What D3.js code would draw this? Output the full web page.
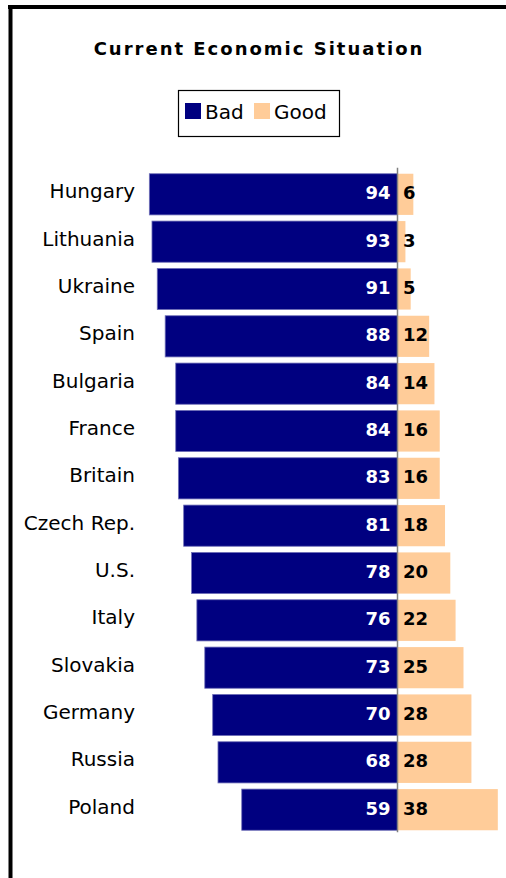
<!DOCTYPE html>
<html>
<head>
<meta charset="utf-8">
<script src="https://cdn.jsdelivr.net/npm/d3@7"></script>
<style>
  html, body { margin: 0; padding: 0; background: #fff; }
  svg { display: block; }
  text { font-family: "DejaVu Sans", Verdana, sans-serif; }
</style>
</head>
<body>
<svg id="chart" width="506" height="878"></svg>
<script>
// Share saying the current economic situation is bad / good (%)
const countries = ["Hungary", "Lithuania", "Ukraine", "Spain", "Bulgaria", "France", "Britain",
                   "Czech Rep.", "U.S.", "Italy", "Slovakia", "Germany", "Russia", "Poland"];
const bad  = [94, 93, 91, 88, 84, 84, 83, 81, 78, 76, 73, 70, 68, 59];
const good = [6, 3, 5, 12, 14, 16, 16, 18, 20, 22, 25, 28, 28, 38];
const seriesNames = ["Bad", "Good"];
const seriesColors = ["#000080", "#FFCC99"];

const rows = countries.map((c, i) => ({ country: c, bad: bad[i], good: good[i] }));

const svg = d3.select("#chart");
const W = 506, H = 878;
const zeroX = 397.5;

// Frame: heavy rules along the top and left edges
svg.append("line").attr("x1", 8).attr("x2", W).attr("y1", 7).attr("y2", 7)
  .attr("stroke", "#000").attr("stroke-width", 4);
svg.append("line").attr("x1", 10.5).attr("x2", 10.5).attr("y1", 5).attr("y2", H)
  .attr("stroke", "#000").attr("stroke-width", 4);

// Title
svg.append("text")
  .attr("x", 259).attr("y", 55)
  .attr("text-anchor", "middle")
  .attr("font-size", 18).attr("font-weight", "bold")
  .attr("letter-spacing", 2)
  .attr("fill", "#000")
  .text("Current Economic Situation");

// Legend
const legend = svg.append("g");
legend.append("rect").attr("x", 178.5).attr("y", 90.5).attr("width", 161).attr("height", 46)
  .attr("fill", "#fff").attr("stroke", "#000").attr("stroke-width", 1.2);
const legendX = [185, 254];
seriesNames.forEach((name, i) => {
  legend.append("rect").attr("x", legendX[i]).attr("y", 103).attr("width", 16).attr("height", 16)
    .attr("fill", seriesColors[i]);
  legend.append("text").attr("x", legendX[i] + 20).attr("y", 119)
    .attr("font-size", 20).attr("fill", "#000").text(name);
});

// Scales
const x = d3.scaleLinear().domain([0, 100]).range([0, 264]);
const y = d3.scaleBand().domain(countries).range([169, 835])
  .paddingInner(0.13).paddingOuter(0.1);

// Bad bars extend left of the zero line
svg.append("g").selectAll("rect").data(rows).join("rect")
  .attr("x", d => zeroX - x(d.bad))
  .attr("y", d => y(d.country))
  .attr("width", d => x(d.bad))
  .attr("height", y.bandwidth())
  .attr("fill", seriesColors[0])
  .attr("stroke", "#7070b8").attr("stroke-width", 0.8);

// Good bars extend right of the zero line
svg.append("g").selectAll("rect").data(rows).join("rect")
  .attr("x", zeroX)
  .attr("y", d => y(d.country))
  .attr("width", d => x(d.good))
  .attr("height", y.bandwidth())
  .attr("fill", seriesColors[1]);

// Zero line
svg.append("line")
  .attr("x1", zeroX).attr("x2", zeroX)
  .attr("y1", y(countries[0]) - 6)
  .attr("y2", y(countries[countries.length - 1]) + y.bandwidth() + 2)
  .attr("stroke", "#808080").attr("stroke-width", 1.5);

// Category labels
svg.append("g").selectAll("text").data(rows).join("text")
  .attr("x", 135)
  .attr("y", d => y(d.country) + y.bandwidth() / 2 + 4)
  .attr("text-anchor", "end")
  .attr("font-size", 20)
  .attr("fill", "#000")
  .text(d => d.country);

// Value labels
svg.append("g").selectAll("text").data(rows).join("text")
  .attr("x", zeroX - 7)
  .attr("y", d => y(d.country) + y.bandwidth() / 2 + 5)
  .attr("text-anchor", "end")
  .attr("font-size", 18).attr("font-weight", "bold")
  .attr("fill", "#fff")
  .text(d => d.bad);

svg.append("g").selectAll("text").data(rows).join("text")
  .attr("x", zeroX + 5.5)
  .attr("y", d => y(d.country) + y.bandwidth() / 2 + 5)
  .attr("text-anchor", "start")
  .attr("font-size", 18).attr("font-weight", "bold")
  .attr("fill", "#000")
  .text(d => d.good);
</script>
</body>
</html>
